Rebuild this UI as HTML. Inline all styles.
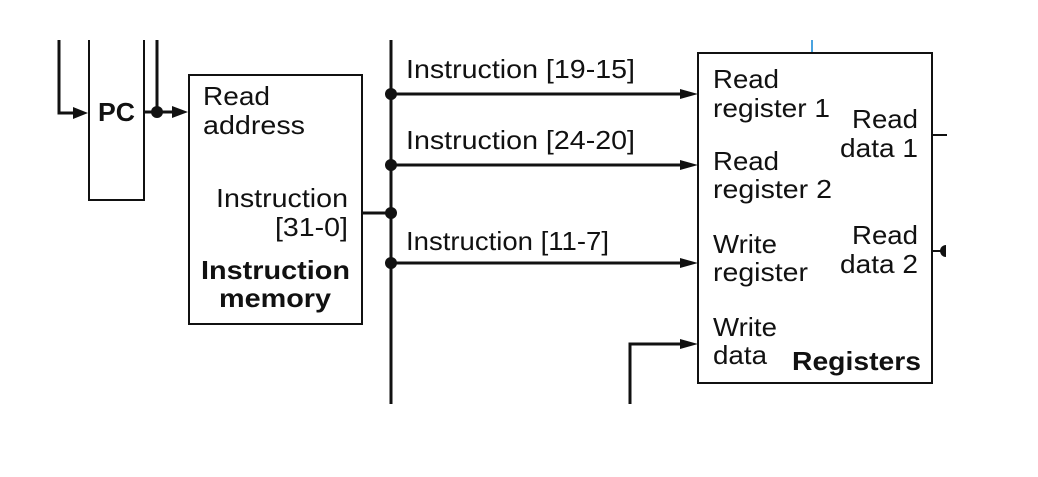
<!DOCTYPE html>
<html><head><style>
html,body{margin:0;padding:0;background:#fff;}
svg text{font-family:"Liberation Sans",Arial,sans-serif;font-size:26px;fill:#111;}
</style></head><body>
<svg width="1038" height="472" xmlns="http://www.w3.org/2000/svg">
<g stroke="#111" fill="none">
<polyline points="89,40 89,200 144,200 144,40" stroke-width="2"/>
<polyline points="59,40 59,113 76,113" stroke-width="3"/>
<line x1="157" y1="40" x2="157" y2="112" stroke-width="3"/>
<line x1="145" y1="112" x2="176" y2="112" stroke-width="3"/>
<rect x="189" y="75" width="173" height="249" stroke-width="2"/>
<line x1="362" y1="213" x2="391" y2="213" stroke-width="3"/>
<line x1="391" y1="40" x2="391" y2="404" stroke-width="3"/>
<line x1="391" y1="94" x2="684" y2="94" stroke-width="3"/>
<line x1="391" y1="165" x2="684" y2="165" stroke-width="3"/>
<line x1="391" y1="263" x2="684" y2="263" stroke-width="3"/>
<polyline points="630,404 630,344 684,344" stroke-width="3"/>
<rect x="698" y="53" width="234" height="330" stroke-width="2"/>
<line x1="812" y1="40" x2="812" y2="52" stroke="#4aa3e0" stroke-width="2"/>
<line x1="932" y1="135" x2="947" y2="135" stroke-width="2"/>
<line x1="932" y1="251" x2="946" y2="251" stroke-width="2"/>
</g>
<g fill="#111">
<path d="M73,107 L88,113 L73,119 z"/>
<path d="M172,106 L188,112 L172,118 z"/>
<path d="M680,89 L698,94 L680,99 z"/>
<path d="M680,160 L698,165 L680,170 z"/>
<path d="M680,258 L698,263 L680,268 z"/>
<path d="M680,339 L698,344 L680,349 z"/>
<circle cx="157" cy="112" r="6"/>
<circle cx="391" cy="94" r="6"/><circle cx="391" cy="165" r="6"/>
<circle cx="391" cy="213" r="6"/><circle cx="391" cy="263" r="6"/>
<path d="M946,245 A6,6 0 0 0 946,257 z"/>
</g>
<g>
<text x="98" y="121" style="font-weight:bold" textLength="37" lengthAdjust="spacingAndGlyphs">PC</text>
<text x="203" y="105" textLength="67" lengthAdjust="spacingAndGlyphs">Read</text>
<text x="203" y="134" textLength="102" lengthAdjust="spacingAndGlyphs">address</text>
<text x="216" y="207" textLength="132" lengthAdjust="spacingAndGlyphs">Instruction</text>
<text x="275" y="236" textLength="73" lengthAdjust="spacingAndGlyphs">[31-0]</text>
<text x="201" y="279" style="font-weight:bold" textLength="149" lengthAdjust="spacingAndGlyphs">Instruction</text>
<text x="219" y="307" style="font-weight:bold" textLength="112" lengthAdjust="spacingAndGlyphs">memory</text>
<text x="406" y="78" textLength="229" lengthAdjust="spacingAndGlyphs">Instruction [19-15]</text>
<text x="406" y="149" textLength="229" lengthAdjust="spacingAndGlyphs">Instruction [24-20]</text>
<text x="406" y="250" textLength="203" lengthAdjust="spacingAndGlyphs">Instruction [11-7]</text>
<text x="713" y="88" textLength="66" lengthAdjust="spacingAndGlyphs">Read</text>
<text x="713" y="117" textLength="117" lengthAdjust="spacingAndGlyphs">register 1</text>
<text x="713" y="170" textLength="66" lengthAdjust="spacingAndGlyphs">Read</text>
<text x="713" y="198" textLength="119" lengthAdjust="spacingAndGlyphs">register 2</text>
<text x="713" y="253" textLength="64" lengthAdjust="spacingAndGlyphs">Write</text>
<text x="713" y="281" textLength="95" lengthAdjust="spacingAndGlyphs">register</text>
<text x="713" y="336" textLength="64" lengthAdjust="spacingAndGlyphs">Write</text>
<text x="713" y="364" textLength="54" lengthAdjust="spacingAndGlyphs">data</text>
<text x="852" y="128" textLength="66" lengthAdjust="spacingAndGlyphs">Read</text>
<text x="840" y="157" textLength="78" lengthAdjust="spacingAndGlyphs">data 1</text>
<text x="852" y="244" textLength="66" lengthAdjust="spacingAndGlyphs">Read</text>
<text x="840" y="273" textLength="78" lengthAdjust="spacingAndGlyphs">data 2</text>
<text x="792" y="370" style="font-weight:bold" textLength="129" lengthAdjust="spacingAndGlyphs">Registers</text>
</g>
</svg>
</body></html>
